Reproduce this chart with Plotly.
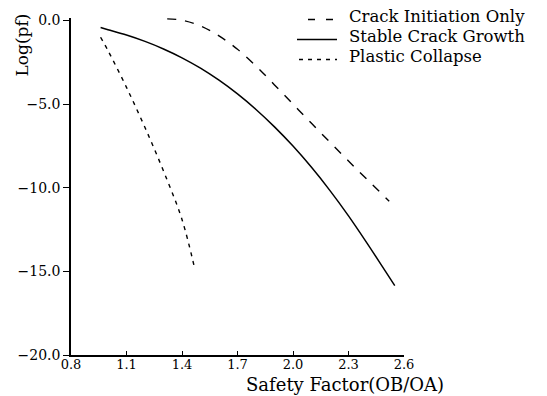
import plotly.graph_objects as go

# Probability of failure (log10) versus safety factor for three failure criteria
init_x = [1.32, 1.40, 1.50, 1.60, 1.70, 1.80, 1.90, 2.00, 2.10, 2.20, 2.30, 2.40, 2.52]
init_y = [0.10, 0.02, -0.32, -0.92, -1.72, -2.72, -3.85, -5.00, -6.15, -7.28, -8.40, -9.50, -10.80]

stable_x = [0.96, 1.00, 1.10, 1.20, 1.30, 1.40, 1.50, 1.60, 1.70, 1.80, 1.90, 2.00,
            2.10, 2.20, 2.30, 2.40, 2.50, 2.55]
stable_y = [-0.42, -0.55, -0.87, -1.25, -1.70, -2.23, -2.85, -3.57, -4.39, -5.32, -6.36, -7.51,
            -8.78, -10.17, -11.68, -13.31, -15.00, -15.85]

plastic_x = [0.96, 1.00, 1.10, 1.20, 1.30, 1.40, 1.47]
plastic_y = [-1.0, -1.8, -4.0, -6.4, -9.0, -11.9, -14.9]

series_names = ["Crack Initiation Only", "Stable Crack Growth", "Plastic Collapse"]
x_ticks = [0.8, 1.1, 1.4, 1.7, 2.0, 2.3, 2.6]
y_ticks = [0.0, -5.0, -10.0, -15.0, -20.0]

FONT = "DejaVu Serif"
LONG_DASH = "9px,9px"
SHORT_DASH = "4px,5px"

fig = go.Figure()
fig.add_trace(go.Scatter(x=init_x, y=init_y, mode="lines", name=series_names[0],
                         line=dict(color="black", width=1.4, dash=LONG_DASH, shape="spline")))
fig.add_trace(go.Scatter(x=stable_x, y=stable_y, mode="lines", name=series_names[1],
                         line=dict(color="black", width=1.5, shape="spline")))
fig.add_trace(go.Scatter(x=plastic_x, y=plastic_y, mode="lines", name=series_names[2],
                         line=dict(color="black", width=1.4, dash=SHORT_DASH, shape="spline")))

# Hand-placed key in paper coordinates: sample line + label per series
plot_left, plot_w = 71, 333
plot_bottom, plot_h = 355, 337.5


def px_x(p):
    return (p - plot_left) / plot_w


def px_y(p):
    return (plot_bottom - p) / plot_h


key_rows = [
    (series_names[0], 19, 16, 308, "7px,11px"),
    (series_names[1], 39, 36, 297, "solid"),
    (series_names[2], 59, 56, 299, SHORT_DASH),
]
shapes = []
annotations = []
for name, line_y, text_y, x0, dash in key_rows:
    shapes.append(dict(type="line", xref="paper", yref="paper",
                       x0=px_x(x0), x1=px_x(337), y0=px_y(line_y), y1=px_y(line_y),
                       line=dict(color="black", width=1.5, dash=dash)))
    annotations.append(dict(text=name, xref="paper", yref="paper",
                            x=px_x(347), y=px_y(text_y), xanchor="left", yanchor="middle",
                            showarrow=False, font=dict(family=FONT, size=16.5, color="black")))

annotations.append(dict(text="Log(pf)", xref="paper", yref="paper",
                        x=px_x(22), y=px_y(45), xanchor="center", yanchor="middle",
                        textangle=-90, showarrow=False,
                        font=dict(family=FONT, size=17, color="black")))
annotations.append(dict(text="Safety Factor(OB/OA)", xref="paper", yref="paper",
                        x=px_x(345), y=px_y(385), xanchor="center", yanchor="middle",
                        showarrow=False, font=dict(family=FONT, size=18, color="black")))

fig.update_layout(
    width=547, height=396,
    margin=dict(l=71, r=143, t=17.5, b=41),
    paper_bgcolor="white", plot_bgcolor="white",
    showlegend=False,
    shapes=shapes, annotations=annotations,
    font=dict(family=FONT, color="black"),
    xaxis=dict(range=[0.8, 2.6], tickvals=x_ticks, tickformat=".1f",
               showgrid=False, zeroline=False, showline=True, linecolor="black", linewidth=1.5,
               ticks="inside", ticklen=4, tickcolor="black", tickwidth=1,
               ticklabelstandoff=-3,
               tickfont=dict(family=FONT, size=13, color="black")),
    yaxis=dict(range=[-20, 0.15], tickvals=y_ticks, tickformat=".1f",
               showgrid=False, zeroline=False, showline=True, linecolor="black", linewidth=1.5,
               ticks="outside", ticklen=6, tickcolor="black", tickwidth=1,
               tickfont=dict(family=FONT, size=14, color="black")),
)

fig.write_html("out.html")
